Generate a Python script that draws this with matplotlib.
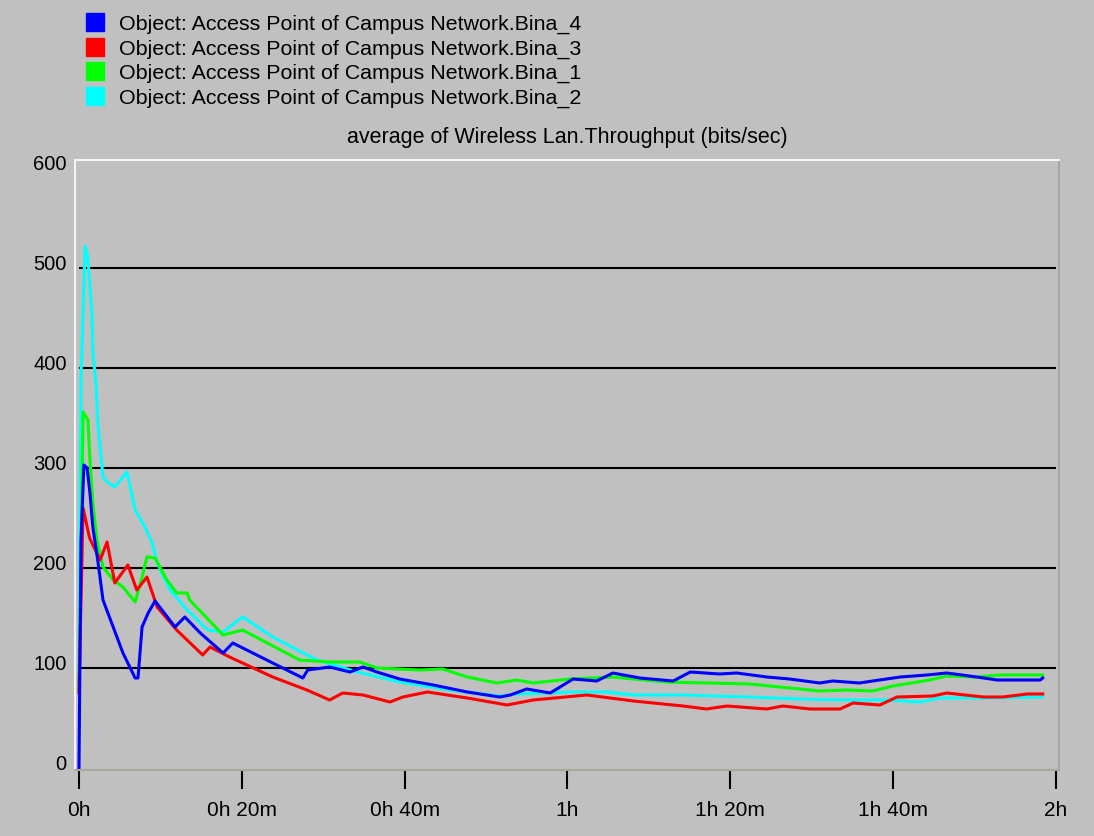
import numpy as np
import matplotlib
matplotlib.use("Agg")
import matplotlib.pyplot as plt
from matplotlib.lines import Line2D
from matplotlib.transforms import ScaledTranslation

plt.rcParams['font.family'] = ['Liberation Sans', 'DejaVu Sans']

# time in minutes, throughput in bits/sec
t_bina4 = [0, 0.25, 0.6, 1.0, 1.35, 1.7, 2.3, 2.95, 4.2, 5.4, 6.9, 7.25, 7.75, 8.5, 9.35,
           11.8, 13.0, 14.9, 17.7, 18.9, 23.8, 27.5, 28.1, 30.8, 33.3, 34.9, 36.6, 39.4,
           43.5, 47.7, 51.7, 53.0, 55.0, 57.9, 60.7, 63.6, 65.6, 68.9, 73.0, 75.1, 78.7,
           80.8, 84.5, 87.3, 91.0, 92.6, 95.9, 97.5, 100.9, 104.2, 106.6, 110.3, 112.8,
           118.1, 118.4]
v_bina4 = [0, 228, 303, 300, 275, 241, 208, 168, 141, 115, 90, 90, 141, 155, 167,
           141, 151, 135, 115, 125, 105, 90, 98, 101, 96, 101, 96, 89,
           83, 76, 71, 73, 79, 75, 89, 87, 95, 90, 87, 96, 94,
           95, 91, 89, 85, 87, 85, 87, 91, 93, 95, 91, 88,
           88, 90]

t_bina3 = [0, 0.5, 1.3, 2.6, 3.45, 4.4, 6.0, 7.1, 8.35, 9.6, 12.0, 15.2, 16.1, 18.5, 23.8,
           28.0, 30.8, 32.4, 34.9, 38.2, 39.8, 42.8, 47.7, 52.6, 55.8, 62.4, 68.1, 74.2,
           77.1, 79.6, 84.5, 86.5, 89.8, 93.5, 95.1, 98.4, 100.5, 104.9, 106.6, 111.1,
           113.5, 116.5, 118.4]
v_bina3 = [75, 260, 230, 208, 226, 185, 203, 178, 191, 161, 138, 113, 121, 111, 91,
           78, 68, 75, 73, 66, 71, 76, 70, 63, 68, 73, 67, 62,
           59, 62, 59, 62, 59, 59, 65, 63, 71, 72, 75, 71,
           71, 74, 74]

t_bina1 = [0, 0.5, 1.1, 1.35, 1.7, 2.2, 2.95, 4.2, 5.4, 6.9, 7.75, 8.35, 9.35, 10.8, 12.0,
           13.3, 13.6, 17.7, 20.1, 27.1, 30.8, 34.5, 36.6, 41.9, 44.7, 47.7, 51.4, 53.8,
           55.8, 60.3, 65.6, 68.1, 72.2, 82.4, 87.3, 91.0, 94.3, 97.5, 100.0, 104.5,
           106.6, 110.3, 113.1, 118.4]
v_bina1 = [78, 356, 348, 308, 265, 228, 201, 188, 181, 166, 191, 211, 210, 188, 175,
           175, 168, 133, 138, 108, 106, 106, 100, 98, 99, 91, 85, 88,
           85, 89, 91, 89, 86, 84, 80, 77, 78, 77, 82, 88,
           92, 91, 93, 93]

t_bina2 = [0, 0.25, 0.75, 1.1, 1.6, 1.7, 2.1, 2.3, 2.95, 3.45, 4.4, 5.9, 6.9, 8.1, 9.0,
           9.6, 11.2, 13.3, 15.8, 17.7, 20.1, 23.8, 29.2, 34.2, 39.4, 45.6, 51.7, 53.8,
           60.7, 64.9, 68.1, 74.2, 82.4, 88.6, 94.7, 99.3, 103.3, 105.8, 111.1, 118.4]
v_bina2 = [85, 391, 522, 510, 451, 416, 383, 346, 291, 286, 281, 296, 258, 241, 225,
           205, 178, 158, 138, 136, 151, 131, 108, 96, 86, 78, 72, 74,
           76, 76, 73, 73, 71, 69, 68, 68, 66, 70, 70, 71]

labels = ["Object: Access Point of Campus Network.Bina_4",
          "Object: Access Point of Campus Network.Bina_3",
          "Object: Access Point of Campus Network.Bina_1",
          "Object: Access Point of Campus Network.Bina_2"]
colors = ["#0000ff", "#ff0000", "#00ff00", "#00ffff"]
series = [(t_bina4, v_bina4), (t_bina3, v_bina3), (t_bina1, v_bina1), (t_bina2, v_bina2)]

x_ticks = [0, 20, 40, 60, 80, 100, 120]
x_tick_labels = ["0h", "0h 20m", "0h 40m", "1h", "1h 20m", "1h 40m", "2h"]
y_ticks = [0, 100, 200, 300, 400, 500, 600]
grid_vals = [100, 200, 300, 400, 500]

bg = "#c0c0c0"
fig = plt.figure(figsize=(10.94, 8.36), dpi=100, facecolor=bg)
ax = fig.add_axes([75 / 1094, 66 / 836, 984 / 1094, 610 / 836], facecolor=bg)

ax.hlines(grid_vals, 0, 120, color="black", lw=1.5, zorder=1)

# draw in reverse so Bina_4 ends up on top
for (t, v), c in reversed(list(zip(series, colors))):
    ax.plot(t, v, color=c, lw=2.2, zorder=2)

ax.set_xlim(-0.49, 120.4)
ax.set_ylim(-2, 608)
ax.set_xticks(x_ticks)
ax.set_xticklabels(x_tick_labels)
ax.set_yticks(y_ticks)
ax.tick_params(axis="y", length=0, pad=6, labelsize=14.5)
ax.tick_params(axis="x", direction="out", length=14, width=1.5, pad=8, labelsize=15)

# labels in the original sit a few pixels above their grid lines
for lab in ax.get_yticklabels():
    lab.set_transform(lab.get_transform() + ScaledTranslation(0, 6 / 100, fig.dpi_scale_trans))

for s in ["top", "left"]:
    ax.spines[s].set_color("#f4f4f4")
    ax.spines[s].set_linewidth(1.5)
for s in ["bottom", "right"]:
    ax.spines[s].set_color("#aca79c")
    ax.spines[s].set_linewidth(1.5)

ax.text(0.5, 1.0377, "average of Wireless Lan.Throughput (bits/sec)",
        transform=ax.transAxes, ha="center", va="center", fontsize=15.5)

handles = [Line2D([], [], marker="s", ls="", color=c, markersize=13) for c in colors]
fig.legend(handles, labels, loc="upper left", bbox_to_anchor=(74 / 1094, 1 - 4 / 836),
           frameon=False, fontsize=15.4, handlelength=1.0, handletextpad=0.6,
           labelspacing=0.25, borderpad=0)

fig.savefig("out.png", dpi=100, facecolor=bg)
